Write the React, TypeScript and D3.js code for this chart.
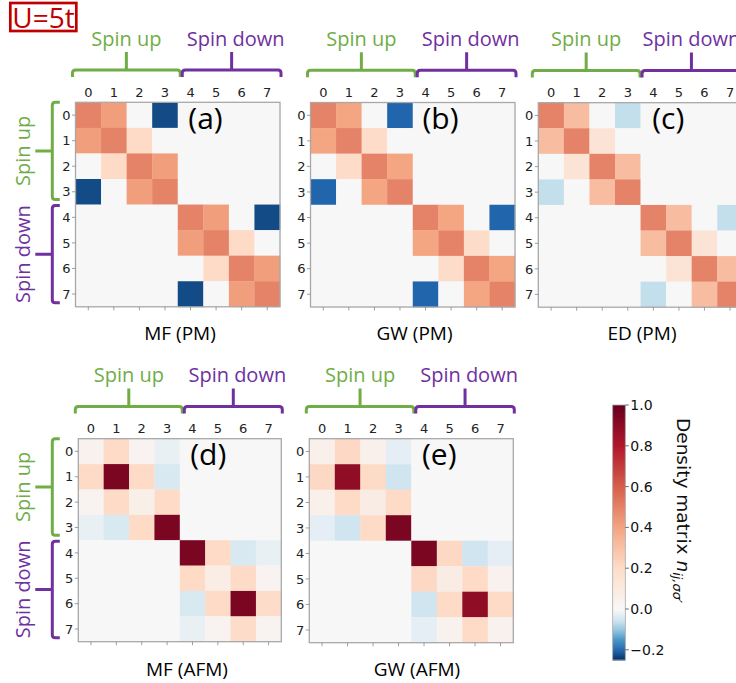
import React from "react";
import * as d3 from "d3";

// ---------------- data ----------------
const indexLabels = ["0", "1", "2", "3", "4", "5", "6", "7"];
const colorbarTicks = [-0.2, 0.0, 0.2, 0.4, 0.6, 0.8, 1.0];
const colorMin = -0.25;
const colorMax = 1.0;
// matplotlib RdBu_r anchor colours (blue -> white -> red)
const rdbuR = [
  "#053061", "#2166ac", "#4393c3", "#92c5de", "#d1e5f0", "#f7f7f7",
  "#fddbc7", "#f4a582", "#d6604d", "#b2182b", "#67001f",
];

// MF (PM)
const mfPM: number[][] = [
  [0.5, 0.42, 0.0, -0.225, 0, 0, 0, 0],
  [0.42, 0.5, 0.2, 0.0, 0, 0, 0, 0],
  [0.0, 0.2, 0.5, 0.42, 0, 0, 0, 0],
  [-0.225, 0.0, 0.42, 0.5, 0, 0, 0, 0],
  [0, 0, 0, 0, 0.5, 0.42, 0.0, -0.225],
  [0, 0, 0, 0, 0.42, 0.5, 0.2, 0.0],
  [0, 0, 0, 0, 0.0, 0.2, 0.5, 0.42],
  [0, 0, 0, 0, -0.225, 0.0, 0.42, 0.5],
];
// GW (PM)
const gwPM: number[][] = [
  [0.5, 0.4, 0.0, -0.2, 0, 0, 0, 0],
  [0.4, 0.5, 0.19, 0.0, 0, 0, 0, 0],
  [0.0, 0.19, 0.5, 0.4, 0, 0, 0, 0],
  [-0.2, 0.0, 0.4, 0.5, 0, 0, 0, 0],
  [0, 0, 0, 0, 0.5, 0.4, 0.0, -0.2],
  [0, 0, 0, 0, 0.4, 0.5, 0.19, 0.0],
  [0, 0, 0, 0, 0.0, 0.19, 0.5, 0.4],
  [0, 0, 0, 0, -0.2, 0.0, 0.4, 0.5],
];
// ED (PM)
const edPM: number[][] = [
  [0.5, 0.31, 0.0, -0.06, 0, 0, 0, 0],
  [0.31, 0.5, 0.14, 0.0, 0, 0, 0, 0],
  [0.0, 0.14, 0.5, 0.31, 0, 0, 0, 0],
  [-0.06, 0.0, 0.31, 0.5, 0, 0, 0, 0],
  [0, 0, 0, 0, 0.5, 0.31, 0.0, -0.06],
  [0, 0, 0, 0, 0.31, 0.5, 0.14, 0.0],
  [0, 0, 0, 0, 0.0, 0.14, 0.5, 0.31],
  [0, 0, 0, 0, -0.06, 0.0, 0.31, 0.5],
];
// MF (AFM)
const mfAFM: number[][] = [
  [0.04, 0.2, 0.03, -0.02, 0, 0, 0, 0],
  [0.2, 0.95, 0.2, -0.04, 0, 0, 0, 0],
  [0.03, 0.2, 0.06, 0.2, 0, 0, 0, 0],
  [-0.02, -0.04, 0.2, 0.95, 0, 0, 0, 0],
  [0, 0, 0, 0, 0.95, 0.2, -0.04, -0.02],
  [0, 0, 0, 0, 0.2, 0.07, 0.2, 0.03],
  [0, 0, 0, 0, -0.04, 0.2, 0.95, 0.19],
  [0, 0, 0, 0, -0.02, 0.03, 0.19, 0.03],
];
// GW (AFM)
const gwAFM: number[][] = [
  [0.05, 0.21, 0.05, -0.025, 0, 0, 0, 0],
  [0.21, 0.89, 0.2, -0.05, 0, 0, 0, 0],
  [0.05, 0.2, 0.08, 0.2, 0, 0, 0, 0],
  [-0.025, -0.05, 0.2, 0.95, 0, 0, 0, 0],
  [0, 0, 0, 0, 0.95, 0.21, -0.05, -0.025],
  [0, 0, 0, 0, 0.21, 0.08, 0.2, 0.04],
  [0, 0, 0, 0, -0.05, 0.2, 0.89, 0.2],
  [0, 0, 0, 0, -0.025, 0.04, 0.2, 0.04],
];

// ---------------- layout ----------------
const W = 736;
const H = 683;
const GREEN = "#70ad47";
const PURPLE = "#7030a0";
const RED = "#c00000";
const CALIBRI = "'Open Sans', 'Noto Sans', sans-serif";
const MPL = "'DejaVu Sans', sans-serif";

const panels = [
  { key: "a", data: mfPM, x: 75.5, y: 102.3, size: 204.5, title: "MF (PM)", titleX: 180, titleY: 340, left: true, bdx: 0, downDx: 4 },
  { key: "b", data: gwPM, x: 310.5, y: 102.5, size: 204.5, title: "GW (PM)", titleX: 414.5, titleY: 340, left: false, bdx: 0, downDx: 4 },
  { key: "c", data: edPM, x: 538.3, y: 102.7, size: 204.5, title: "ED (PM)", titleX: 642, titleY: 340, left: false, bdx: -3, downDx: 0 },
  { key: "d", data: mfAFM, x: 78.3, y: 438.7, size: 203, title: "MF (AFM)", titleX: 187, titleY: 676, left: true, bdx: 0, downDx: 4 },
  { key: "e", data: gwAFM, x: 309.3, y: 438.7, size: 204, title: "GW (AFM)", titleX: 417, titleY: 676, left: false, bdx: 0, downDx: 4 },
];

// diverging norm centred on 0, RdBu_r colormap
const norm = (v: number) =>
  v < 0 ? 0.5 * (1 - v / colorMin) : 0.5 + 0.5 * (v / colorMax);
const cmapScale = d3
  .scaleLinear<string>()
  .domain(d3.range(11).map((i) => i / 10))
  .range(rdbuR)
  .interpolate(d3.interpolateRgb)
  .clamp(true);
const cmap = (v: number) => cmapScale(norm(v));

function TopBracket({ x0, x1, y, color, label, labelDx }: any) {
  const xc = (x0 + x1) / 2;
  const r = 3;
  const leg = 7;
  const d = `M${x0},${y + leg} L${x0},${y + r} Q${x0},${y} ${x0 + r},${y} L${x1 - r},${y} Q${x1},${y} ${x1},${y + r} L${x1},${y + leg} M${xc},${y} L${xc},${y - 18}`;
  return (
    <g>
      <path d={d} fill="none" stroke={color} strokeWidth={3} />
      <text x={xc + labelDx} y={y - 24} textAnchor="middle" fontFamily={CALIBRI} fontSize={20} fill={color}>
        {label}
      </text>
    </g>
  );
}

function LeftBracket({ y0, y1, x, color, label }: any) {
  const yc = (y0 + y1) / 2;
  const r = 3;
  const leg = 7.5;
  const d = `M${x + leg},${y0} L${x + r},${y0} Q${x},${y0} ${x},${y0 + r} L${x},${y1 - r} Q${x},${y1} ${x + r},${y1} L${x + leg},${y1} M${x},${yc} L${x - 17},${yc}`;
  return (
    <g>
      <path d={d} fill="none" stroke={color} strokeWidth={3} />
      <text
        transform={`translate(${30},${yc}) rotate(-90)`}
        textAnchor="middle"
        fontFamily={CALIBRI}
        fontSize={20}
        fill={color}
      >
        {label}
      </text>
    </g>
  );
}

function Panel({ p }: any) {
  const band = d3.scaleBand<number>().domain(d3.range(8)).range([0, p.size]);
  const cell = band.bandwidth();
  const half = cell * 4;
  const topY = p.y - 32.3;
  return (
    <g>
      <g transform={`translate(${p.x},${p.y})`}>
        {p.data.map((row: number[], i: number) =>
          row.map((v: number, j: number) => (
            <rect
              key={`${i}-${j}`}
              x={band(j)}
              y={band(i)}
              width={cell + 0.3}
              height={cell + 0.3}
              fill={cmap(v)}
            />
          ))
        )}
        <rect x={0} y={0} width={p.size} height={p.size} fill="none" stroke="#a8a8a8" strokeWidth={1.3} />
        {indexLabels.map((lab, k) => (
          <g key={`t${k}`}>
            <line
              x1={band(k)! + cell / 2}
              x2={band(k)! + cell / 2}
              y1={p.size}
              y2={p.size + 3.5}
              stroke="#888"
              strokeWidth={0.8}
            />
            <line x1={-3.5} x2={0} y1={band(k)! + cell / 2} y2={band(k)! + cell / 2} stroke="#888" strokeWidth={0.8} />
            <text x={band(k)! + cell / 2} y={-5.5} textAnchor="middle" fontFamily={MPL} fontSize={13} fill="#222">
              {lab}
            </text>
            <text
              x={-5}
              y={band(k)! + cell / 2}
              dy="0.36em"
              textAnchor="end"
              fontFamily={MPL}
              fontSize={13}
              fill="#222"
            >
              {lab}
            </text>
          </g>
        ))}
      </g>
      <text x={p.x + 130} y={p.y + 26.5} textAnchor="middle" fontFamily={CALIBRI} fontSize={30} fill="#000">
        ({p.key})
      </text>
      <text x={p.titleX} y={p.titleY} textAnchor="middle" fontFamily={CALIBRI} fontSize={19} fill="#000">
        {p.title}
      </text>
      <TopBracket x0={p.x - 3 + p.bdx} x1={p.x + half + 2.5 + p.bdx} y={topY} color={GREEN} label="Spin up" labelDx={0} />
      <TopBracket
        x0={p.x + half + 4.5 + p.bdx}
        x1={p.x + p.size + 1 + p.bdx}
        y={topY}
        color={PURPLE}
        label="Spin down"
        labelDx={p.downDx}
      />
      {p.left && (
        <g>
          <LeftBracket y0={p.y} y1={p.y + half - 5} x={52.3} color={GREEN} label="Spin up" />
          <LeftBracket y0={p.y + half + 1} y1={p.y + p.size - 4} x={52.3} color={PURPLE} label="Spin down" />
        </g>
      )}
    </g>
  );
}

function Colorbar() {
  const x = 612.7;
  const w = 12.6;
  const yScale = d3.scaleLinear().domain([colorMin, colorMax]).range([660, 405]);
  const steps = d3.range(0, 256);
  const fmt = d3.format(".1f");
  return (
    <g>
      {steps.map((s) => {
        const v0 = colorMin + ((colorMax - colorMin) * s) / 256;
        const v1 = colorMin + ((colorMax - colorMin) * (s + 1)) / 256;
        return (
          <rect
            key={s}
            x={x}
            y={yScale(v1)}
            width={w}
            height={yScale(v0) - yScale(v1) + 0.5}
            fill={cmap((v0 + v1) / 2)}
          />
        );
      })}
      <rect x={x} y={405} width={w} height={255} fill="none" stroke="#aaa" strokeWidth={0.8} />
      {colorbarTicks.map((t) => (
        <g key={t}>
          <line x1={x + w} x2={x + w + 3.5} y1={yScale(t)} y2={yScale(t)} stroke="#444" strokeWidth={0.8} />
          <text x={x + w + 5} y={yScale(t)} dy="0.36em" fontFamily={MPL} fontSize={14} fill="#111">
            {fmt(t)}
          </text>
        </g>
      ))}
      <text transform={`translate(676.5,418) rotate(90)`} fontFamily={MPL} fontSize={18.5} fill="#111">
        <tspan>Density matrix </tspan>
        <tspan fontStyle="italic">n</tspan>
        <tspan fontStyle="italic" fontSize={13} dy={4}>
          ij,σσ′
        </tspan>
      </text>
    </g>
  );
}

export default function App() {
  return (
    <svg
      width={W}
      height={H}
      viewBox={`0 0 ${W} ${H}`}
      style={{ position: "absolute", left: 0, top: 0, background: "#fff" }}
    >
      <rect x={0} y={0} width={W} height={H} fill="#fff" />
      <rect x={10.3} y={3} width={66} height={28} fill="none" stroke={RED} strokeWidth={2.7} />
      <text x={43.5} y={27.5} textAnchor="middle" fontFamily={CALIBRI} fontSize={28} fill={RED}>
        U=5t
      </text>
      {panels.map((p) => (
        <Panel key={p.key} p={p} />
      ))}
      <Colorbar />
    </svg>
  );
}
